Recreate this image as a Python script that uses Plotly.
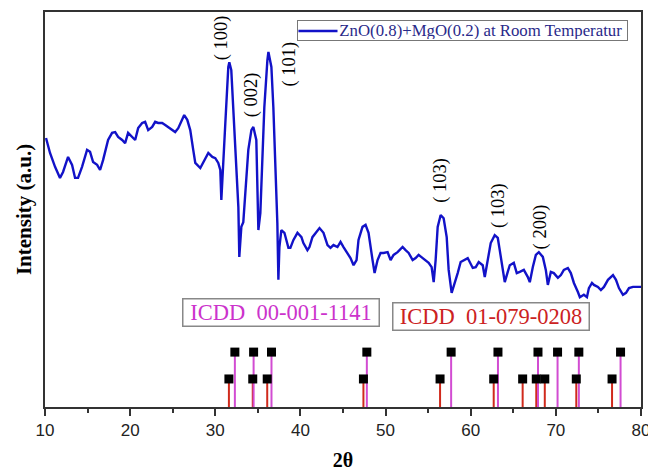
import plotly.graph_objects as go

# XRD pattern (2theta in degrees, intensity in arbitrary units)
two_theta = [
    10.12, 10.59, 11.18, 11.76, 12.12, 12.71, 13.18, 13.53, 13.88, 14.35, 14.94, 15.29, 15.65, 16.12,
    16.47, 16.82, 17.41, 17.88, 18.24, 18.59, 19.06, 19.41, 19.76, 20.24, 20.59, 20.94, 21.41, 21.76,
    22.12, 22.59, 22.94, 23.29, 23.76, 24.12, 24.47, 24.94, 25.29, 25.65, 26.12, 26.35, 26.71, 27.06,
    27.41,
    27.65, 28.24, 28.59, 29.18, 29.65, 30.00, 30.35, 30.59, 30.71, 30.82, 31.18, 31.53, 31.65, 31.88,
    32.12, 32.47, 32.71, 32.82, 33.06, 33.29, 33.53, 33.88, 34.24, 34.47, 34.82, 34.94, 35.06, 35.29,
    35.53, 35.76, 36.12, 36.24, 36.59, 36.82, 37.06, 37.29, 37.41, 37.53, 37.76, 38.12, 38.59,
    38.82, 39.18, 39.65, 40.12, 40.35, 40.82, 41.06, 41.41, 41.76, 42.24, 42.71, 43.18, 43.53, 43.88,
    44.35, 44.71, 45.06, 45.53, 45.88, 46.24, 46.59, 46.82, 47.29, 47.65, 48.00, 48.47, 48.71, 49.06,
    49.41, 49.76, 50.24, 50.59, 50.94, 51.41, 52.00, 52.35, 52.71, 53.18, 53.53, 53.88, 54.35, 54.71,
    55.06, 55.41, 55.65, 55.88, 56.12, 56.47, 56.82, 57.18, 57.41, 57.76, 58.00, 58.47,
    58.82, 59.29, 59.65, 60.24, 60.59, 60.94, 61.41, 61.65, 62.00, 62.35, 62.82, 63.18, 63.41, 63.76,
    64.00, 64.35, 64.59, 65.06, 65.41, 65.76, 66.24, 66.71, 66.94, 67.29, 67.65, 68.00, 68.47, 68.82,
    69.06, 69.41, 69.76, 70.24, 70.59, 70.94, 71.41, 71.76, 72.12, 72.59, 72.82, 73.29, 73.65, 73.88,
    74.24, 74.47, 74.94, 75.29, 75.65, 76.12, 76.71, 77.06, 77.41, 77.88, 78.24, 78.59, 79.06, 79.65,
    80.00,
]
intensity = [
    68.1, 64.3, 60.8, 58.0, 59.5, 63.3, 61.3, 58.0, 58.0, 60.8, 65.1, 64.6, 62.0, 61.3,
    60.0, 62.5, 67.6, 69.4, 69.6, 68.4, 67.6, 66.8, 69.4, 68.4, 67.6, 70.6, 71.9, 72.2,
    70.1, 70.9, 72.2, 71.9, 71.9, 71.4, 70.9, 70.1, 69.6, 70.6, 72.7, 73.9, 72.7, 70.1,
    65.1,
    61.8, 60.5, 62.0, 64.3, 63.3, 63.0, 61.8, 60.0, 52.4, 57.5, 71.9, 86.1, 87.3, 85.3,
    75.9, 63.3, 50.6, 38.0, 45.6, 46.8, 54.9, 65.1, 70.1, 70.9, 67.6, 59.2, 44.8, 49.1,
    60.8, 75.9, 87.8, 89.9, 86.1, 75.9, 60.8, 46.6, 32.2, 40.5, 44.8, 44.1, 40.3,
    40.3, 42.3, 44.1, 43.0, 41.5, 39.7, 40.5, 43.0, 44.1, 45.3, 44.1, 41.0, 40.3, 41.0,
    40.5, 41.8, 40.5, 39.0, 37.7, 35.9, 37.2, 42.3, 45.6, 46.1, 44.1, 37.2, 33.9, 37.2,
    39.0, 39.0, 39.2, 37.2, 38.5, 39.2, 40.5, 39.7, 39.0, 37.2, 37.7, 38.5, 37.7, 37.2,
    36.5, 35.4, 31.6, 37.2, 45.6, 48.6, 47.8, 43.0, 34.7, 28.9, 30.4, 33.9,
    36.7, 37.2, 37.7, 35.2, 35.4, 36.7, 35.9, 32.9, 37.2, 41.5, 43.5, 42.8, 39.7, 35.4,
    31.6, 34.2, 35.9, 36.5, 33.9, 34.2, 34.7, 32.9, 31.6, 35.4, 38.5, 39.2, 38.0, 34.7,
    30.9, 34.2, 33.9, 32.7, 33.4, 34.7, 35.2, 33.9, 31.4, 29.1, 27.8, 28.4, 27.8, 30.1,
    31.4, 30.9, 30.4, 29.6, 30.4, 32.2, 33.4, 32.2, 30.1, 28.4, 28.9, 30.1, 30.4, 30.4,
    30.4,
]

# Reference patterns (stick positions)
icdd_1141_pos = [32.3, 34.5, 36.6, 47.8, 57.7, 63.2, 67.9, 70.2, 72.7, 77.6]
icdd_1141_height = 13.9
icdd_0208_pos = [31.6, 34.4, 36.1, 47.4, 56.4, 62.7, 66.1, 67.7, 68.7, 72.4, 76.6]
icdd_0208_height = 7.1

# Peak labels
peak_labels = ["( 100)", "( 002)", "( 101)", "( 103)", "( 103)", "( 200)"]
peak_label_x = [30.7, 34.35, 38.7, 56.5, 63.2, 68.2]
peak_label_y = [93.4, 79.0, 86.8, 57.5, 51.1, 45.6]

series_name = "ZnO(0.8)+MgO(0.2) at Room Temperatur"
x_ticks = [10, 20, 30, 40, 50, 60, 70, 80]

SERIF = "Liberation Serif, Times New Roman, serif"
SANS = "Liberation Sans, Arial, sans-serif"
MAGENTA = "#d24cd2"
RED = "#d02a1c"
BLUE = "#1212c8"

fig = go.Figure()


def sticks(pos, h):
    xs, ys = [], []
    for p in pos:
        xs += [p, p, None]
        ys += [0, h, None]
    return xs, ys


rx, ry = sticks(icdd_0208_pos, icdd_0208_height)
mx, my = sticks(icdd_1141_pos, icdd_1141_height)

fig.add_trace(go.Scatter(x=rx, y=ry, mode="lines", line=dict(color=RED, width=2),
                         showlegend=False, hoverinfo="skip"))
fig.add_trace(go.Scatter(x=mx, y=my, mode="lines", line=dict(color=MAGENTA, width=2),
                         showlegend=False, hoverinfo="skip"))
fig.add_trace(go.Scatter(x=icdd_0208_pos, y=[icdd_0208_height] * len(icdd_0208_pos), mode="markers",
                         marker=dict(symbol="square", size=9, color="black"), showlegend=False))
fig.add_trace(go.Scatter(x=icdd_1141_pos, y=[icdd_1141_height] * len(icdd_1141_pos), mode="markers",
                         marker=dict(symbol="square", size=9, color="black"), showlegend=False))

fig.add_trace(go.Scatter(x=two_theta, y=intensity, mode="lines", name=series_name,
                         line=dict(color=BLUE, width=2.4), showlegend=False))

for t, x, y in zip(peak_labels, peak_label_x, peak_label_y):
    fig.add_annotation(x=x, y=y, text=t, textangle=-90, showarrow=False,
                       font=dict(family=SERIF, size=18.5, color="black"))

fig.add_annotation(x=37.7, y=23.8, text="ICDD\u00a0 00-001-1141", showarrow=False,
                   font=dict(family=SERIF, size=22.5, color="#cc33cc"), width=193, height=24,
                   bordercolor="#888888", borderwidth=1.5, borderpad=1, bgcolor="white")
fig.add_annotation(x=62.4, y=23.0, text="ICDD\u00a0 01-079-0208", showarrow=False,
                   font=dict(family=SERIF, size=22.5, color="#cc2222"), width=193, height=24,
                   bordercolor="#888888", borderwidth=1.5, borderpad=1, bgcolor="white")

# legend box (series name with line sample)
fig.add_annotation(xref="paper", yref="paper", x=0.4235, y=0.952, xanchor="left", yanchor="middle",
                   text=series_name + "\u00a0", showarrow=False, align="right", width=327, height=17,
                   font=dict(family=SERIF, size=16.8, color="#2a2a8a"),
                   bordercolor="#777777", borderwidth=1, borderpad=1, bgcolor="rgba(0,0,0,0)")
fig.add_shape(type="line", xref="paper", yref="paper", x0=0.4252, x1=0.4908, y0=0.952, y1=0.952,
              line=dict(color=BLUE, width=2.4))

fig.update_layout(
    width=648, height=473,
    margin=dict(l=45, r=7, t=12, b=66, autoexpand=False),
    paper_bgcolor="white", plot_bgcolor="white",
    showlegend=False,
    xaxis=dict(range=[10, 80.0001], tickvals=x_ticks, ticks="outside", ticklen=7, tickwidth=1.5,
               tickcolor="#333333", showline=True, linecolor="#333333", linewidth=1.5, mirror=True,
               showgrid=False, zeroline=False, ticklabeloverflow="allow", automargin=False,
               tickfont=dict(family=SANS, size=17, color="#222222"),
               minor=dict(dtick=5, ticks="outside", ticklen=4, tickwidth=1.5, tickcolor="#333333"),
               title=dict(text="<b>2\u03b8</b>", font=dict(family=SERIF, size=20, color="black"),
                          standoff=14)),
    yaxis=dict(range=[0, 100], showticklabels=False, ticks="", showline=True, linecolor="#333333",
               linewidth=1.5, mirror=True, showgrid=False, zeroline=False, automargin=False,
               title=dict(text="<b>Intensity (a.u.)</b>", font=dict(family=SERIF, size=21, color="black"),
                          standoff=6)),
)

fig.write_html("out.html")
